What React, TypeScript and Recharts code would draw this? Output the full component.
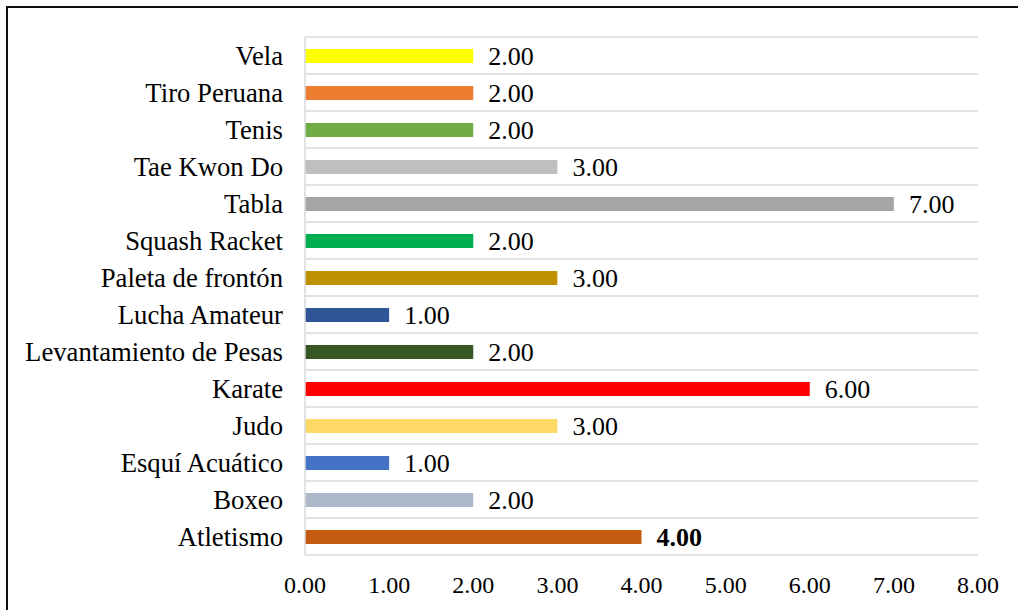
import { BarChart, Bar, XAxis, YAxis, CartesianGrid, Cell, LabelList } from 'recharts';

const sports = [
  'Vela',
  'Tiro Peruana',
  'Tenis',
  'Tae Kwon Do',
  'Tabla',
  'Squash Racket',
  'Paleta de frontón',
  'Lucha Amateur',
  'Levantamiento de Pesas',
  'Karate',
  'Judo',
  'Esquí Acuático',
  'Boxeo',
  'Atletismo',
];
const counts = [2, 2, 2, 3, 7, 2, 3, 1, 2, 6, 3, 1, 2, 4];
const barColors = [
  '#FFFF00',
  '#ED7D31',
  '#70AD47',
  '#BFBFBF',
  '#A5A5A5',
  '#00B050',
  '#BF9000',
  '#2F5597',
  '#375623',
  '#FF0000',
  '#FFD966',
  '#4472C4',
  '#ADB9CA',
  '#C55A11',
];
const xTicks = [0, 1, 2, 3, 4, 5, 6, 7, 8];

const data = sports.map((name, i) => ({ name, value: counts[i] }));

const font = '"Liberation Serif", "Times New Roman", serif';
const grid = '#d9d9d9';

function ValueLabel(props: any) {
  const { x, y, width, height, value, index } = props;
  const bold = sports[index] === 'Atletismo';
  return (
    <text
      x={x + width + 15}
      y={y + height / 2}
      dy='0.36em'
      fontSize={26}
      fontFamily={font}
      fontWeight={bold ? 'bold' : 'normal'}
      fill='#000'
    >
      {Number(value).toFixed(2)}
    </text>
  );
}

export default function App() {
  return (
    <>
      <div style={{ width: 1018, height: 610, margin: -8, background: '#fff' }}>
        <BarChart
          width={1018}
          height={610}
          data={data}
          layout='vertical'
          margin={{ top: 37, right: 40, bottom: 0, left: 0 }}
        >
          <CartesianGrid
            vertical={false}
            stroke={grid}
            strokeWidth={1.5}
            horizontalCoordinatesGenerator={({ offset }: any) =>
              sports
                .map((_, i) => offset.top + (i * offset.height) / sports.length)
                .concat(offset.top + offset.height)
            }
          />
          <XAxis
            type='number'
            domain={[0, 8]}
            ticks={xTicks}
            tickFormatter={(v: number) => v.toFixed(2)}
            axisLine={false}
            tickLine={false}
            tickSize={0}
            tickMargin={21}
            height={55}
            interval={0}
            tick={{ fill: '#000', fontSize: 24, fontFamily: font }}
          />
          <YAxis
            type='category'
            dataKey='name'
            width={305}
            interval={0}
            tickLine={false}
            tickSize={0}
            tickMargin={22}
            axisLine={{ stroke: grid, strokeWidth: 1.5 }}
            tick={{ fill: '#000', fontSize: 26.7, fontFamily: font }}
          />
          <Bar dataKey='value' barSize={14} isAnimationActive={false}>
            {data.map((d, i) => (
              <Cell key={d.name} fill={barColors[i]} />
            ))}
            <LabelList dataKey='value' content={ValueLabel} />
          </Bar>
        </BarChart>
      </div>
      {/* outer frame: only its top and left edges fall inside the window */}
      <div
        style={{
          position: 'fixed',
          left: 6,
          top: 6,
          width: 1012,
          height: 604,
          borderTop: '2px solid #111',
          borderLeft: '2px solid #111',
          zIndex: 10,
          pointerEvents: 'none',
        }}
      />
    </>
  );
}
